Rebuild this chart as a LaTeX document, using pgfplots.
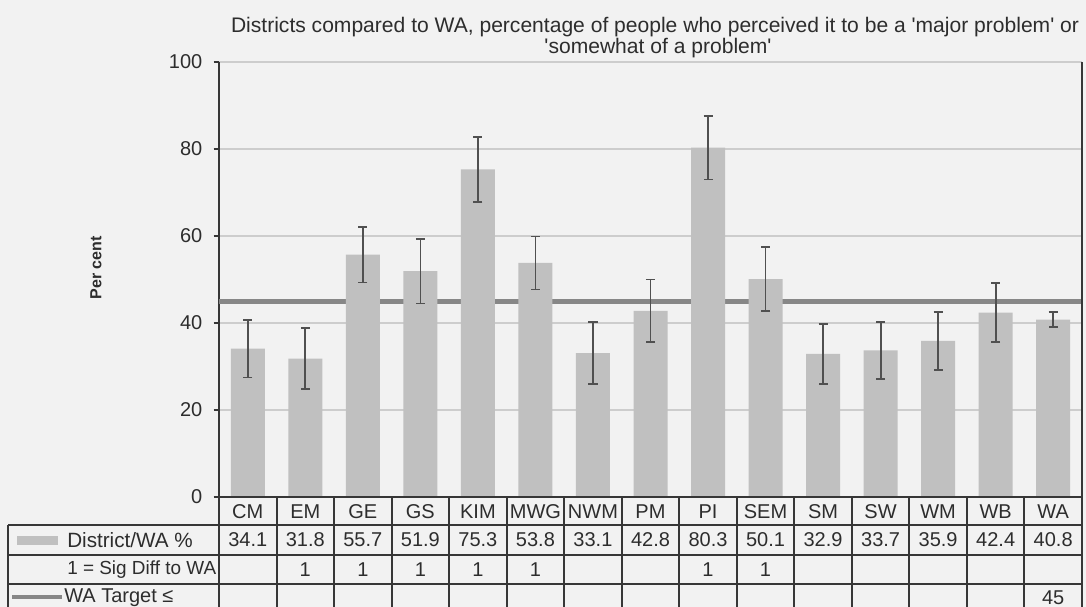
\documentclass[border=0pt]{standalone}
\usepackage{pgfplots}
\pgfplotsset{compat=1.18}
\usepackage{pgfplotstable}
\usepackage{fontspec}
\setmainfont{Liberation Sans}
\definecolor{bgc}{RGB}{242,242,242}
\definecolor{barc}{RGB}{192,192,192}
\definecolor{errc}{RGB}{80,80,80}
\definecolor{targc}{RGB}{135,135,135}
\definecolor{gridc}{RGB}{205,205,205}
\definecolor{linec}{RGB}{55,55,55}
\definecolor{txtc}{RGB}{45,45,45}
\pgfplotstableread{
x v e
0 34.1 6.6
1 31.8 7.0
2 55.7 6.4
3 51.9 7.4
4 75.3 7.5
5 53.8 6.1
6 33.1 7.2
7 42.8 7.2
8 80.3 7.3
9 50.1 7.3
10 32.9 6.9
11 33.7 6.6
12 35.9 6.7
13 42.4 6.8
14 40.8 1.8
}\datatable
\begin{document}
\begin{tikzpicture}
\begin{scope}[x=0.75pt,y=0.75pt]
\fill[bgc] (0,0) rectangle (1086,607);
\end{scope}
\begin{axis}[
  at={(164.25pt,82.5pt)}, anchor=south west,
  scale only axis, width=647.25pt, height=326.25pt,
  xmin=-0.5, xmax=14.5, ymin=0, ymax=100,
  axis y line*=left, axis x line*=bottom,
  axis line style={draw=linec, line width=1.5pt, -},
  xtick=\empty,
  ytick={0,20,40,60,80,100},
  tick align=outside, major tick length=4pt,
  tick style={draw=linec, line width=1.2pt},
  ymajorgrids, grid style={draw=gridc, line width=1pt},
  tick label style={font=\fontsize{15}{15}\selectfont, text=txtc},
  yticklabel style={xshift=-5pt},
  /pgf/number format/assume math mode=true,
  clip=false,
]
\addplot[line width=3.75pt, color=targc, forget plot] coordinates {(-0.5,45) (14.5,45)};
\addplot[ybar, bar width=25.5pt, bar shift=0pt, fill=barc, draw=none]
  table[x=x, y=v] {\datatable};
\addplot[draw=none, mark=none,
  error bars/.cd, y dir=both, y explicit, error mark=-,
  error bar style={draw=errc, line width=1.3pt},
  error mark options={draw=errc, rotate=90, line width=1.3pt, mark size=3.4pt}]
  table[x=x, y=v, y error=e] {\datatable};
\end{axis}
\begin{scope}[x=0.75pt,y=0.75pt]
  % right border
  \draw[linec, line width=1.5pt] (1082,110) -- (1082,545);
  % table lines
  \draw[linec, line width=1.5pt] (219,110) -- (1082,110);
  \foreach \k in {0,...,15} {
    \draw[linec, line width=1.5pt] ({219+57.53*\k},110) -- ({219+57.53*\k},-12);
  }
  \foreach \yy in {82,52,23} {
    \draw[linec, line width=1.5pt] (8,\yy) -- (1082,\yy);
  }
  \draw[linec, line width=1.5pt] (8,82) -- (8,-12);
  % categories and values
  \foreach \c [count=\i from 0] in {CM,EM,GE,GS,KIM,MWG,NWM,PM,PI,SEM,SM,SW,WM,WB,WA} {
    \node[text=txtc, font=\fontsize{15}{15}\selectfont] at ({219+57.53*(\i+0.5)},95) {\c};
  }
  \foreach \v [count=\i from 0] in {34.1,31.8,55.7,51.9,75.3,53.8,33.1,42.8,80.3,50.1,32.9,33.7,35.9,42.4,40.8} {
    \node[text=txtc, font=\fontsize{15}{15}\selectfont] at ({219+57.53*(\i+0.5)},67) {\v};
  }
  \foreach \i in {1,2,3,4,5,8,9} {
    \node[text=txtc, font=\fontsize{15}{15}\selectfont] at ({219+57.53*(\i+0.5)},37) {1};
  }
  \node[text=txtc, font=\fontsize{15}{15}\selectfont] at ({219+57.53*14.5},9) {45};
  % row labels
  \fill[barc] (17,62) rectangle (58,71);
  \draw[targc, line width=3pt] (12,10) -- (62,10);
  \node[anchor=west, inner sep=0, text=txtc, font=\fontsize{15.5}{15}\selectfont] at (67,67) {District/WA \%};
  \node[anchor=west, inner sep=0, text=txtc, font=\fontsize{14.2}{15}\selectfont] at (67,37) {1 = Sig Diff to WA};
  \node[anchor=west, inner sep=0, text=txtc, font=\fontsize{15}{15}\selectfont] at (64,9) {WA Target ≤};
  % y label
  \node[rotate=90, text=txtc, font=\bfseries\fontsize{12}{12}\selectfont] at (96,339) {Per cent};
  % title
  \node[text=txtc, font=\fontsize{15.8}{15}\selectfont] at (655,580) {Districts compared to WA, percentage of people who perceived it to be a \textquotesingle major problem\textquotesingle\ or};
  \node[text=txtc, font=\fontsize{15.8}{15}\selectfont] at (658,559) {\textquotesingle somewhat of a problem\textquotesingle};
  \pgfresetboundingbox
  \path[use as bounding box] (0,0) rectangle (1086,607);
\end{scope}
\end{tikzpicture}
\end{document}
